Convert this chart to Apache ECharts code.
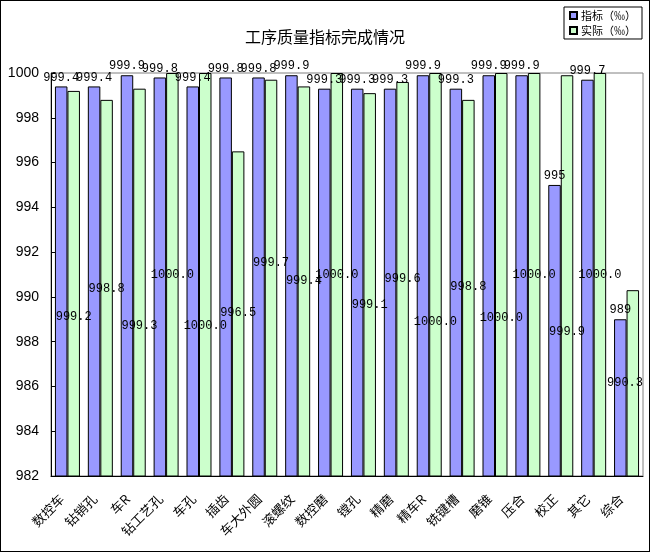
<!DOCTYPE html>
<html>
<head>
<meta charset="utf-8">
<title>工序质量指标完成情况</title>
<script src="https://cdn.jsdelivr.net/npm/echarts@6/dist/echarts.min.js"></script>
<style>
    html, body { margin: 0; padding: 0; background: #fff; }
    #main { width: 648px; height: 550px; border: 1px solid #000; }
</style>
</head>
<body>
<div id="main"></div>
<script>
    // 工序名称
    var categories = ['数控车', '钻销孔', '车R', '钻工艺孔', '车孔', '插齿', '车大外圆', '滚螺纹', '数控磨',
        '镗孔', '精磨', '精车R', '铣键槽', '磨锥', '压合', '校正', '其它', '综合'];
    // 指标（‰）
    var targetValues = [999.4, 999.4, 999.9, 999.8, 999.4, 999.8, 999.8, 999.9, 999.3,
        999.3, 999.3, 999.9, 999.3, 999.9, 999.9, 995, 999.7, 989];
    // 实际（‰）
    var actualValues = [999.2, 998.8, 999.3, 1000.0, 1000.0, 996.5, 999.7, 999.4, 1000.0,
        999.1, 999.6, 1000.0, 998.8, 1000.0, 1000.0, 999.9, 1000.0, 990.3];
    var yTicks = { min: 982, max: 1000, step: 2 };

    // 实际值标签在图中的高度（按纵轴刻度）
    var actualLabelAt = [989.1, 990.35, 988.7, 991.0, 988.7, 989.3, 991.5, 990.7, 991.0,
        989.65, 990.8, 988.9, 990.45, 989.05, 991.0, 988.45, 991.0, 986.15];

    var gridRight = 6;
    var myChart = echarts.init(document.getElementById('main'));

    var option = {
        animation: false,
        backgroundColor: '#fff',
        title: {
            text: '工序质量指标完成情况',
            left: 'center',
            top: 23,
            textStyle: {
                fontFamily: 'Noto Sans CJK SC',
                fontSize: 16,
                fontWeight: 'normal',
                color: '#000'
            }
        },
        legend: {
            orient: 'vertical',
            right: 7,
            top: 6,
            padding: [3, 6, 3, 5],
            borderColor: '#000',
            borderWidth: 1,
            itemWidth: 7,
            itemHeight: 7,
            itemGap: 4,
            icon: 'rect',
            textStyle: {
                fontFamily: 'Noto Sans CJK SC',
                fontSize: 11,
                color: '#000',
                padding: [0, 0, 0, -1]
            },
            data: ['指标（‰）', '实际（‰）']
        },
        grid: {
            left: 50,
            right: gridRight,
            top: 72,
            bottom: 75,
            show: true,
            borderColor: '#808080',
            borderWidth: 1,
            containLabel: false
        },
        xAxis: {
            type: 'category',
            data: categories,
            axisLine: { lineStyle: { color: '#000', width: 1 } },
            axisTick: { inside: true, length: 4, lineStyle: { color: '#000' } },
            axisLabel: {
                interval: 0,
                rotate: 45,
                margin: 15,
                padding: [0, 8, 0, 0],
                fontFamily: 'Noto Sans CJK SC',
                fontSize: 13,
                color: '#000'
            }
        },
        yAxis: {
            type: 'value',
            min: yTicks.min,
            max: yTicks.max,
            interval: yTicks.step,
            splitLine: { show: false },
            axisLine: { show: true, lineStyle: { color: '#000', width: 1 } },
            axisTick: { show: true, inside: true, length: 4, lineStyle: { color: '#000' } },
            axisLabel: {
                margin: 12,
                fontFamily: 'Liberation Sans',
                fontSize: 14,
                color: '#000',
                formatter: function (v) {
                    return String(v);
                }
            }
        },
        series: [{
                name: '指标（‰）',
                type: 'bar',
                barGap: '0%',
                barCategoryGap: '24%',
                itemStyle: { color: '#9999FF', borderColor: '#000', borderWidth: 1 },
                label: {
                    show: true,
                    position: 'top',
                    distance: 3,
                    fontFamily: 'Liberation Mono',
                    fontSize: 12,
                    color: '#000',
                    formatter: function (p) {
                        return String(p.value);
                    }
                },
                data: targetValues
            },
            {
                name: '实际（‰）',
                type: 'bar',
                barGap: '0%',
                barCategoryGap: '24%',
                itemStyle: { color: '#CCFFCC', borderColor: '#000', borderWidth: 1 },
                label: {
                    show: true,
                    position: 'inside',
                    fontFamily: 'Liberation Mono',
                    fontSize: 12,
                    color: '#000',
                    formatter: function (p) {
                        return p.value.toFixed(1);
                    }
                },
                labelLayout: function (params) {
                    var y = myChart.convertToPixel({ yAxisIndex: 0 }, actualLabelAt[params.dataIndex]);
                    var cx = params.rect.x + params.rect.width / 2;
                    // 标签不超出绘图区右边
                    var maxX = myChart.getWidth() - gridRight - params.labelRect.width / 2;
                    return {
                        x: Math.min(cx, maxX),
                        y: y,
                        align: 'center',
                        verticalAlign: 'middle'
                    };
                },
                data: actualValues
            }
        ]
    };
    myChart.setOption(option);

    window.addEventListener('resize', function () {
        myChart.resize();
    });
</script>
</body>
</html>
